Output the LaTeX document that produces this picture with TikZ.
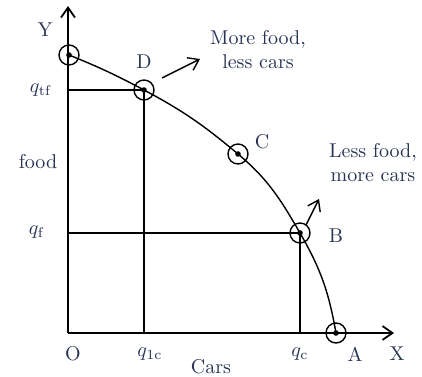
\documentclass[tikz,border=0pt]{standalone}
\usepackage{amsmath}
\usepackage{tikz}
\usetikzlibrary{positioning,arrows.meta}
\tikzset{>={Straight Barb[length=5pt,width=7pt]}}
\definecolor{labelcol}{RGB}{40,52,84}
\tikzset{
    pt/.style={circle, draw, line width=0.7pt, minimum size=10pt, inner sep=0pt},
    lbl/.style={text=labelcol, inner sep=1pt},
}

\begin{document}
\begin{tikzpicture}[x=0.5pt, y=0.5pt]
            \useasboundingbox (0,0) rectangle (422,376);

            % Axes
            \coordinate (O) at (68,43);
            \coordinate (Yend) at (68,370);
            \coordinate (Xend) at (394,43);
            \draw[->, line width=0.9pt] (O) -- (Yend);
            \draw[->, line width=0.9pt] (O) -- (Xend);

            % Points on the frontier
            \node[pt] (top) at (69,321) {};
            \node[pt] (D) at (144,286) {};
            \node[pt] (C) at (238,222) {};
            \node[pt] (B) at (300,143) {};
            \node[pt] (A) at (336,43) {};
            \foreach \p in {top, D, C, B, A} {
                \fill (\p.center) circle (1.4pt);
            }

            % Frontier curve
            \draw[line width=0.7pt] (top.center) to[out=-22, in=152] (D.center)
                to[out=-28, in=140] (C.center)
                to[out=-40, in=120] (B.center)
                to[out=-60, in=100] (A.center);

            % Drop lines
            \draw[line width=0.7pt] (O |- D.center) -- (D.center) -- (D.center |- O);
            \draw[line width=0.7pt] (O |- B.center) -- (B.center) -- (B.center |- O);

            % Direction arrows
            \coordinate (Dtail) at (162,298);
            \coordinate (Dhead) at (200,317);
            \draw[->, line width=0.7pt] (Dtail) -- (Dhead);
            \coordinate (Btail) at (306,151);
            \coordinate (Bhead) at (319,177);
            \draw[->, line width=0.7pt] (Btail) -- (Bhead);

            % Point labels
            \node[lbl] (labD) at (144,314) {D};
            \node[lbl] (labC) at (262,234) {C};
            \node[lbl] (labB) at (336,140) {B};
            \node[lbl] (labA) at (355,22) {A};

            % Axis labels
            \node[lbl] (labY) at (45,346) {Y};
            \node[lbl] (labX) at (397,22) {X};
            \node[lbl] (labO) at (73,22) {O};
            \node[lbl] (food) at (38,214) {food};
            \node[lbl] (cars) at (211,9) {Cars};
            \node[lbl] (qtf) at (41,286) {$q_{\mathrm{tf}}$};
            \node[lbl] (qf) at (37,144) {$q_{\mathrm{f}}$};
            \node[lbl] (q1c) at (150,22) {$q_{\mathrm{1c}}$};
            \node[lbl] (qc) at (300,22) {$q_{\mathrm{c}}$};

            % Notes
            \node[lbl, align=center] (more) at (258,326) {More food,\\less cars};
            \node[lbl, align=center] (less) at (373,213) {Less food,\\more cars};

\end{tikzpicture}
\end{document}
